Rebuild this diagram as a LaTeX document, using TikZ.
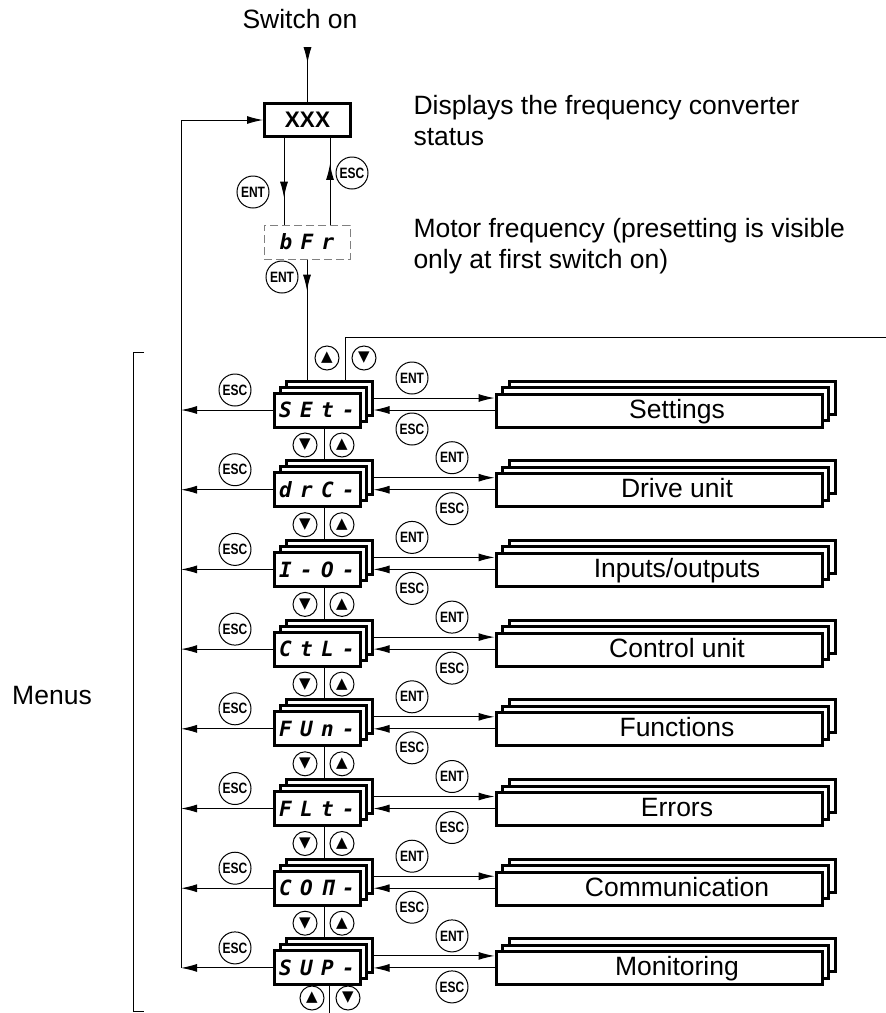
\documentclass[tikz,border=0pt]{standalone}
\usepackage{fontspec}
\setmainfont{Liberation Sans}
\newfontfamily\symfont{DejaVu Sans}
\newfontfamily\keyfont[FakeStretch=0.8]{Liberation Sans}
\newfontfamily\segfont[LetterSpace=40]{DejaVu Sans Mono}
\usetikzlibrary{arrows.meta,positioning,decorations.markings}

\begin{document}
\begin{tikzpicture}[%
        x=0.5pt, y=-0.5pt, line width=0.5pt,
        >={Latex[length=8pt,width=4pt]},
        every node/.style={inner sep=0pt, font=\fontsize{13.25}{15.5}\selectfont},
        panel/.style={draw, line width=1.5pt, fill=white, minimum width=43pt, minimum height=17pt,
          font=\segfont\bfseries\itshape\fontsize{10.5}{10.5}\selectfont},
        menubox/.style={draw, line width=1.5pt, fill=white, minimum width=163pt, minimum height=16.5pt},
        key/.style={circle, draw, line width=0.5pt, minimum size=16pt, font=\keyfont\bfseries\fontsize{7.5}{7.5}\selectfont},
        arrowkey/.style={circle, draw, line width=0.5pt, minimum size=12pt, font=\symfont\fontsize{7.5}{7.5}\selectfont},
        midtip/.style={postaction={decorate}, decoration={markings, mark=at position #1 with {\arrow{>}}}}
      ]
      \useasboundingbox (0,0) rectangle (886,1013);
      \coordinate (loop) at (181,0);
      \coordinate (ret) at (886,337);
      \coordinate (tail) at (329,1013);

      % start of the chain
      \node (switch) [anchor=base] at (300,28) {Switch on};
      \node (xxx) [draw, line width=1.5pt, minimum width=43pt, minimum height=16.5pt,
        font=\bfseries\fontsize{11.25}{11.25}\selectfont] at (307.5,120) {XXX};
      \node (bfr) [panel, line width=0.5pt, draw=gray, dash pattern=on 4pt off 2pt] at (307,242) {bFr};
      \node (status) [anchor=north west, align=left] at (413,95) {Displays the frequency converter\\status};
      \node (motor) [anchor=north west, align=left] at (413,218) {Motor frequency (presetting is visible\\only at first switch on)};
      \node (menus) [anchor=base] at (52,704) {Menus};

      \draw[midtip=0.27] ([yshift=-10pt]switch.south -| xxx.north) -- (xxx.north);
      \draw[midtip=0.69] ([xshift=-11.75pt]xxx.south) -- ([xshift=-11.75pt]xxx.south |- bfr.north);
      \draw[midtip=0.70] ([xshift=11.25pt]xxx.south |- bfr.north) -- ([xshift=11.25pt]xxx.south);
      \node (ent-x) [key] at (253,192) {ENT};
      \node (esc-x) [key] at (352,173) {ESC};
      \node (ent-b) [key] at (282,277) {ENT};

      % menu rows
      \foreach \disp/\lbl [count=\k from 0] in {SEt-/Settings, drC-/Drive unit, I-O-/{Inputs/outputs},
          CtL-/Control unit, FUn-/Functions, FLt-/Errors, COΠ-/Communication, SUP-/Monitoring} {
        \pgfmathsetmacro\y{410+79.7*\k}
        \pgfmathsetmacro\xr{412+40*mod(\k,2)}
        \node (pan\k-2) [panel] at (329,\y-12) {};
        \node (pan\k-1) [panel] at (323,\y-6) {};
        \node (pan\k) [panel] at (317,\y) {\disp};
        \node (menu\k-2) [menubox] at (672,\y-12.5) {};
        \node (menu\k-1) [menubox] at (665.5,\y-6) {};
        \node (menu\k) [menubox] at (659,\y+0.5) {};
        \node (title\k) [anchor=base] at (677,\y+8) {\lbl};
        \draw[->] (pan\k-2.east) -- (pan\k-2.east -| menu\k.west);
        \draw[->] (menu\k.west |- pan\k.east) -- (pan\k-2.east |- pan\k.east);
        \draw[->] (pan\k.west) -- (pan\k.west -| loop);
        \node (esc\k) [key] at (235,\y-20) {ESC};
        \node (ent\k-r) [key] at (\xr,\y-32) {ENT};
        \node (esc\k-r) [key] at (\xr,\y+19) {ESC};
        \ifnum\k>0
          \pgfmathtruncatemacro\prev{\k-1}
          \draw ([xshift=3.5pt]pan\prev.south) -- ([xshift=3.5pt]pan\prev.south |- pan\k-2.north);
          \node (dn\k) [arrowkey] at (305,\y-44.7) {▼};
          \node (up\k) [arrowkey] at (342,\y-44.7) {▲};
        \fi
      }

      \draw[midtip=0.26] (bfr.south) -- (bfr.south |- pan0-2.north);
      \draw (pan0-2.north -| 345,0) |- (ret);
      \node (up0) [arrowkey] at (327,358) {▲};
      \node (dn0) [arrowkey] at (364,358) {▼};
      \draw (pan7.south -| tail) -- (tail);
      \node (up8) [arrowkey] at (312,998) {▲};
      \node (dn8) [arrowkey] at (348,998) {▼};
      \draw[->] (pan7.west -| loop) |- (xxx.west);
      \draw (144,352) -- (133,352) -- (133,1011) -- (144,1011);
    \end{tikzpicture}
\end{document}
